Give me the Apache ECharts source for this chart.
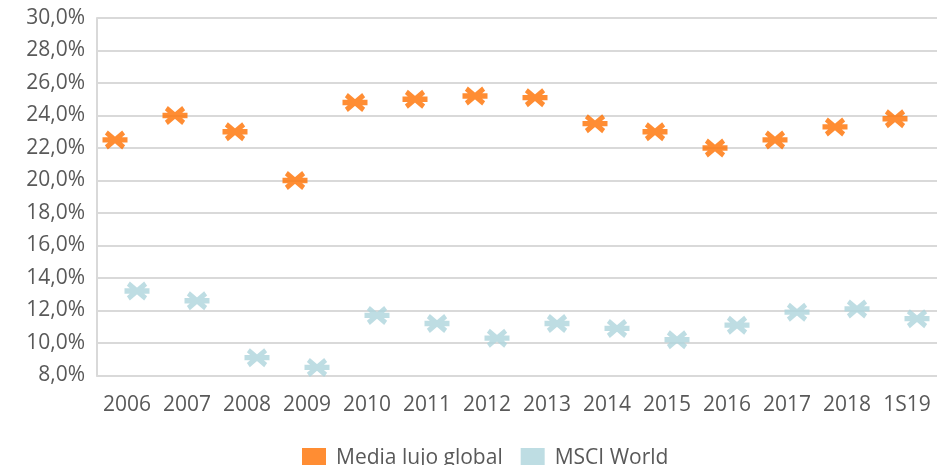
<!DOCTYPE html>
<html>
<head>
<meta charset="utf-8">
<script src="https://cdn.jsdelivr.net/npm/echarts@6/dist/echarts.min.js"></script>
<style>
  html, body { margin: 0; padding: 0; background: #ffffff; }
  #chart { width: 937px; height: 465px; }
</style>
</head>
<body>
<div id="chart"></div>
<script>
// Periods on the horizontal axis
const categories = ['2006', '2007', '2008', '2009', '2010', '2011', '2012', '2013', '2014', '2015', '2016', '2017', '2018', '1S19'];

// Margins (%) for each group
const mediaLujoGlobal = [22.5, 24.0, 23.0, 20.0, 24.8, 25.0, 25.2, 25.1, 23.5, 23.0, 22.0, 22.5, 23.3, 23.8];
const msciWorld = [13.2, 12.6, 9.1, 8.5, 11.7, 11.2, 10.3, 11.2, 10.9, 10.2, 11.1, 11.9, 12.1, 11.5];

const seriesNames = ['Media lujo global', 'MSCI World'];

// Value axis range
const yMin = 8;
const yMax = 30;
const yStep = 2;

// Flattened asterisk marker: horizontal bar plus two diagonals
const starPath = 'path://M0,7.5 L26,7.5 L26,12.5 L0,12.5 Z ' +
  'M5.54,1.03 L23.54,15.03 L20.47,18.97 L2.47,4.97 Z ' +
  'M2.47,15.03 L20.47,1.03 L23.54,4.97 L5.54,18.97 Z';

const textColor = '#595959';
const gridColor = '#D9D9D9';
const fontFamily = '"Open Sans", "Liberation Sans", sans-serif';

const chart = echarts.init(document.getElementById('chart'), null, { renderer: 'canvas' });

chart.setOption({
  animation: false,
  backgroundColor: '#ffffff',
  grid: { left: 97, right: -6, top: 18, bottom: 89.5, containLabel: false },
  legend: {
    left: 297,
    top: 443,
    itemWidth: 24,
    itemHeight: 21,
    itemGap: 18,
    icon: 'rect',
    textStyle: { color: textColor, fontSize: 21, fontFamily: fontFamily, padding: [0, 0, 0, 5] },
    data: seriesNames
  },
  xAxis: {
    type: 'category',
    data: categories,
    boundaryGap: true,
    axisLine: { show: true, lineStyle: { color: gridColor, width: 2 } },
    axisTick: { show: false },
    axisLabel: { color: textColor, fontSize: 21, fontFamily: fontFamily, margin: 19, interval: 0 },
    splitLine: { show: false }
  },
  yAxis: {
    type: 'value',
    min: yMin,
    max: yMax,
    interval: yStep,
    axisLine: { show: true, lineStyle: { color: gridColor, width: 2 } },
    axisTick: { show: false },
    axisLabel: {
      color: textColor,
      fontSize: 21,
      fontFamily: fontFamily,
      margin: 12,
      formatter: v => v.toFixed(1).replace('.', ',') + '%'
    },
    splitLine: { show: true, lineStyle: { color: gridColor, width: 2 } }
  },
  series: [
    {
      name: seriesNames[0],
      type: 'scatter',
      data: mediaLujoGlobal,
      symbol: starPath,
      symbolSize: [25, 19],
      symbolOffset: [-12, 0],
      itemStyle: { color: '#FF7000' }
    },
    {
      name: seriesNames[1],
      type: 'scatter',
      data: msciWorld,
      symbol: starPath,
      symbolSize: [25, 19],
      symbolOffset: [10, 0],
      itemStyle: { color: '#AED5DC' }
    }
  ]
});
</script>
</body>
</html>
